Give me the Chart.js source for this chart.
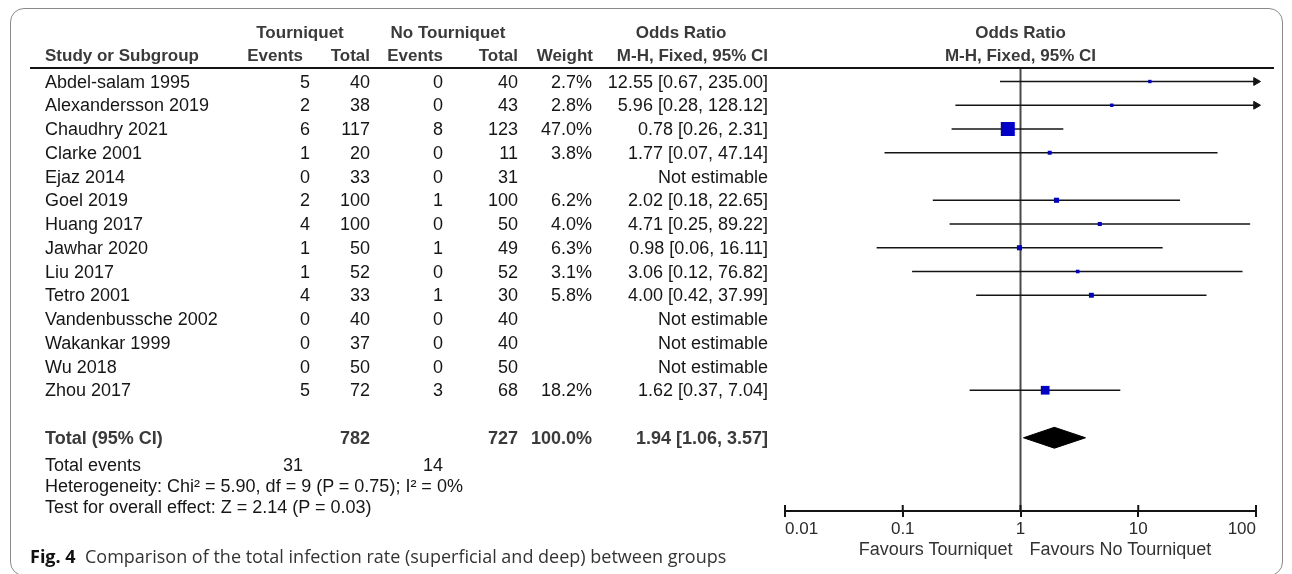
<!DOCTYPE html>
<html>
<head>
<meta charset="utf-8">
<script src="https://cdn.jsdelivr.net/npm/chart.js@4.4.1/dist/chart.umd.min.js"></script>
<style>
  html, body { margin: 0; padding: 0; background: #fff; }
  #wrap { position: relative; width: 1292px; height: 574px; overflow: hidden; font-family: "Liberation Sans", Arial, sans-serif; }
  #box { position: absolute; left: 10px; top: 8px; width: 1273px; height: 568px; border: 1.5px solid #8a8a8a; border-radius: 14px; box-sizing: border-box; }
  #forest { position: absolute; left: 0; top: 0; }
  #hline { position: absolute; left: 30px; top: 67px; width: 1244px; height: 2px; background: #141414; }
  .t { position: absolute; white-space: nowrap; font-size: 18px; line-height: 22px; color: #161616; }
  .h { font-weight: bold; font-size: 17px; color: #3a3a3a; }
  .b { font-weight: bold; color: #3a3a3a; }
  .f { color: #333; }
  #caption { position: absolute; left: 30px; top: 544px; line-height: 24px; font-family: "Open Sans", "Noto Sans", sans-serif; font-size: 18px; color: #333; white-space: nowrap; }
  #caption b { color: #111; }
</style>
</head>
<body>
<div id="wrap">
  <div id="box"></div>
  <canvas id="forest" width="1292" height="574"></canvas>
  <div id="hline"></div>
  <div id="caption"><b>Fig. 4</b>&nbsp; Comparison of the total infection rate (superficial and deep) between groups</div>
</div>
<script>
// studies en waarden uit de figuur
const studies = ['Abdel-salam 1995', 'Alexandersson 2019', 'Chaudhry 2021', 'Clarke 2001', 'Ejaz 2014', 'Goel 2019', 'Huang 2017',
  'Jawhar 2020', 'Liu 2017', 'Tetro 2001', 'Vandenbussche 2002', 'Wakankar 1999', 'Wu 2018', 'Zhou 2017'];
const tEvents = [5, 2, 6, 1, 0, 2, 4, 1, 1, 4, 0, 0, 0, 5];
const tTotal = [40, 38, 117, 20, 33, 100, 100, 50, 52, 33, 40, 37, 50, 72];
const ntEvents = [0, 0, 8, 0, 0, 1, 0, 1, 0, 1, 0, 0, 0, 3];
const ntTotal = [40, 43, 123, 11, 31, 100, 50, 49, 52, 30, 40, 40, 50, 68];
const weights = [2.7, 2.8, 47.0, 3.8, null, 6.2, 4.0, 6.3, 3.1, 5.8, null, null, null, 18.2];
const oddsRatio = [12.55, 5.96, 0.78, 1.77, null, 2.02, 4.71, 0.98, 3.06, 4.00, null, null, null, 1.62];
const ciLow = [0.67, 0.28, 0.26, 0.07, null, 0.18, 0.25, 0.06, 0.12, 0.42, null, null, null, 0.37];
const ciHigh = [235.00, 128.12, 2.31, 47.14, null, 22.65, 89.22, 16.11, 76.82, 37.99, null, null, null, 7.04];
const totalCounts = [782, 727];        // tourniquet, no tourniquet
const totalEvents = [31, 14];
const totalWeight = 100.0;
const totalOR = [1.94, 1.06, 3.57];    // OR, low, high
const xTicks = [0.01, 0.1, 1, 10, 100];
const footerLines = ['Heterogeneity: Chi\u00b2 = 5.90, df = 9 (P = 0.75); I\u00b2 = 0%', 'Test for overall effect: Z = 2.14 (P = 0.03)'];

// layout
const W = 1292, H = 574;
const TOP = 68, AXIS_Y = 511, ROW0 = 81.5, ROW_H = 23.75, TOTAL_ROW = 15;
const X_LEFT = 785, X_RIGHT = 1256;
const yMin = -(ROW0 - TOP) / ROW_H;
const yMax = (AXIS_Y - ROW0) / ROW_H;
const xMin = xTicks[0], xMax = xTicks[xTicks.length - 1];
const lineCol = '#141414';
const blue = '#0000c8';

// grootte van het vierkantje volgens gewicht (47% -> 14px)
const side = w => 14 * Math.sqrt(w / 47);

const datasets = [];
// punten (odds ratio)
datasets.push({
  order: 0, showLine: false,
  data: studies.map((s, i) => oddsRatio[i] == null ? null : {x: oddsRatio[i], y: i, w: weights[i]}).filter(d => d),
  pointStyle: 'rect',
  pointRadius: c => side(c.raw.w) / Math.SQRT2,
  pointBackgroundColor: blue, pointBorderWidth: 0
});
// diamant (boven + onder, vullen tussen beide)
datasets.push({
  order: 1, data: [{x: totalOR[1], y: TOTAL_ROW}, {x: totalOR[0], y: TOTAL_ROW - 0.44}, {x: totalOR[2], y: TOTAL_ROW}],
  borderColor: '#000', borderWidth: 1, backgroundColor: '#000', fill: '+1', pointRadius: 0
});
datasets.push({
  order: 1, data: [{x: totalOR[1], y: TOTAL_ROW}, {x: totalOR[0], y: TOTAL_ROW + 0.44}, {x: totalOR[2], y: TOTAL_ROW}],
  borderColor: '#000', borderWidth: 1, fill: false, pointRadius: 0
});
// betrouwbaarheidsintervallen
studies.forEach((s, i) => {
  if (oddsRatio[i] == null) return;
  const arrow = ciHigh[i] > xMax;
  datasets.push({
    order: 2, clip: false,
    data: [{x: ciLow[i], y: i}, {x: Math.min(ciHigh[i], xMax), y: i}],
    borderColor: lineCol, borderWidth: 1.6,
    pointRadius: [0, arrow ? 4.5 : 0], pointStyle: 'triangle', pointRotation: 90,
    pointBackgroundColor: lineCol, pointBorderColor: lineCol, pointBorderWidth: 1
  });
});
// verticale lijn op 1
datasets.push({
  order: 3, data: [{x: 1, y: yMin}, {x: 1, y: yMax}],
  borderColor: '#4a4a4a', borderWidth: 2, pointRadius: 0
});

// tick streepjes ook boven de as
const crossTicks = {
  id: 'crossTicks',
  afterDraw(chart) {
    const s = chart.scales.x, ctx = chart.ctx;
    ctx.save();
    ctx.strokeStyle = lineCol;
    ctx.lineWidth = 2;
    s.ticks.forEach(t => {
      const x = s.getPixelForValue(t.value);
      ctx.beginPath();
      ctx.moveTo(x, s.top - 6);
      ctx.lineTo(x, s.top);
      ctx.stroke();
    });
    ctx.restore();
  }
};

const chart = new Chart(document.getElementById('forest'), {
  type: 'line',
  data: {datasets: datasets},
  options: {
    responsive: false, animation: false, events: [],
    layout: {padding: {left: X_LEFT, right: W - X_RIGHT, top: TOP, bottom: 0}},
    plugins: {legend: {display: false}, tooltip: {enabled: false}},
    scales: {
      x: {
        type: 'logarithmic', position: 'bottom', min: xMin, max: xMax,
        afterBuildTicks: s => { s.ticks = xTicks.map(v => ({value: v})); },
        afterFit: s => { s.height = H - AXIS_Y; },
        border: {display: true, color: lineCol, width: 2},
        grid: {display: true, drawOnChartArea: false, drawTicks: true, tickLength: 6, color: lineCol, lineWidth: 2},
        ticks: {align: 'inner', padding: 2, color: '#2a2a2a', autoSkip: false, maxRotation: 0,
          font: {family: 'Liberation Sans', size: 17}, callback: v => String(v)}
      },
      y: {type: 'linear', display: false, reverse: true, min: yMin, max: yMax}
    }
  },
  plugins: [crossTicks]
});

// tekst van de tabel
const wrap = document.getElementById('wrap');
function put(txt, x, y, align, cls) {
  const d = document.createElement('div');
  d.className = 't' + (cls ? ' ' + cls : '');
  d.textContent = txt;
  d.style.top = (y - 11) + 'px';
  if (align === 'right') d.style.right = (W - x) + 'px';
  else if (align === 'center') { d.style.left = (x - 300) + 'px'; d.style.width = '600px'; d.style.textAlign = 'center'; }
  else d.style.left = x + 'px';
  wrap.appendChild(d);
}
const ys = chart.scales.y, xs = chart.scales.x;
const x1 = xs.getPixelForValue(1);
const col = {name: 45, tEv: 310, tTot: 370, nEv: 443, nTot: 518, w: 592, ci: 768};
const fmtCI = (o, l, h) => o.toFixed(2) + ' [' + l.toFixed(2) + ', ' + h.toFixed(2) + ']';

// kop
put('Tourniquet', 300, 33, 'center', 'h');
put('No Tourniquet', 448, 33, 'center', 'h');
put('Odds Ratio', 681, 33, 'center', 'h');
put('Odds Ratio', x1, 33, 'center', 'h');
put('Study or Subgroup', col.name, 56, 'left', 'h');
put('Events', 303, 56, 'right', 'h');
put('Total', col.tTot, 56, 'right', 'h');
put('Events', col.nEv, 56, 'right', 'h');
put('Total', col.nTot, 56, 'right', 'h');
put('Weight', 593, 56, 'right', 'h');
put('M-H, Fixed, 95% CI', col.ci, 56, 'right', 'h');
put('M-H, Fixed, 95% CI', x1, 56, 'center', 'h');

// rijen
studies.forEach((s, i) => {
  const y = ys.getPixelForValue(i);
  put(s, col.name, y, 'left');
  put(String(tEvents[i]), col.tEv, y, 'right');
  put(String(tTotal[i]), col.tTot, y, 'right');
  put(String(ntEvents[i]), col.nEv, y, 'right');
  put(String(ntTotal[i]), col.nTot, y, 'right');
  if (weights[i] != null) put(weights[i].toFixed(1) + '%', col.w, y, 'right');
  put(oddsRatio[i] == null ? 'Not estimable' : fmtCI(oddsRatio[i], ciLow[i], ciHigh[i]), col.ci, y, 'right');
});

// totaal
const yt = ys.getPixelForValue(TOTAL_ROW);
put('Total (95% CI)', col.name, yt, 'left', 'b');
put(String(totalCounts[0]), col.tTot, yt, 'right', 'b');
put(String(totalCounts[1]), col.nTot, yt, 'right', 'b');
put(totalWeight.toFixed(1) + '%', col.w, yt, 'right', 'b');
put(fmtCI(totalOR[0], totalOR[1], totalOR[2]), col.ci, yt, 'right', 'b');
put('Total events', col.name, 465, 'left');
put(String(totalEvents[0]), 303, 465, 'right');
put(String(totalEvents[1]), col.nEv, 465, 'right');
put(footerLines[0], col.name, 486, 'left');
put(footerLines[1], col.name, 507, 'left');

// favours labels
put('Favours Tourniquet', x1 - 8, AXIS_Y + 38, 'right', 'f');
put('Favours No Tourniquet', x1 + 9, AXIS_Y + 38, 'left', 'f');
</script>
</body>
</html>
